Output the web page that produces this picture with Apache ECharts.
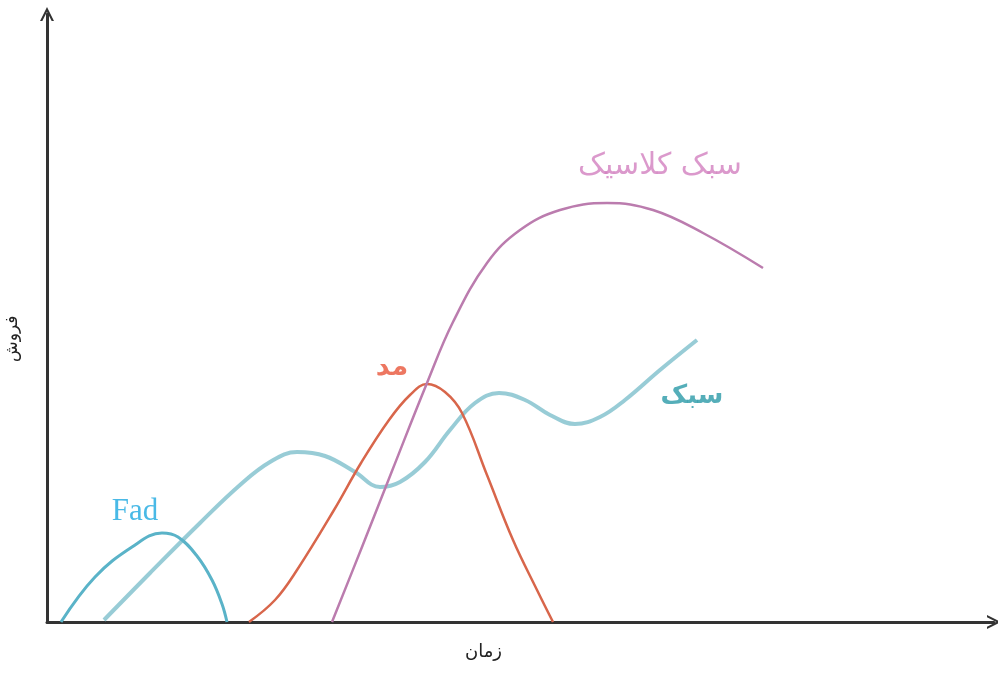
<!DOCTYPE html>
<html><head><meta charset="utf-8">
<script src="https://cdn.jsdelivr.net/npm/echarts@6/dist/echarts.min.js"></script>
<style>html,body{margin:0;padding:0;background:#fff}#c{width:998px;height:673px}</style>
</head><body><div id="c"></div>
<script>
// units: x = time, y = sales (arbitrary units)
const fadData = [[14,0],[48,45],[85,75],[115,89],[131,85],[150,66],[165,42],[175,18],[180,0]];
const styleData = [[57,2],[103,49],[153,99],[193,137],[223,160],[250,170],[278,166],[308,150],[333,135],[353,140],[378,160],[403,192],[428,219],[452,229],[478,222],[503,207],[528,198],[553,205],[578,222],[613,252],[650,282]];
const fashionData = [[202,0],[228,22],[250,52],[287,112],[314,159],[342,202],[363,227],[380,238],[398,230],[415,209],[440,147],[466,82],[490,32],[506,0]];
const classicData = [[285,0],[315,75],[345,151],[380,239],[406,300],[440,359],[473,392],[513,412],[560,419],[606,412],[656,389],[716,354]];
const labels = [
  {name:'Fad', coord:[88,110], color:'#1ba8e0', font:'Liberation Serif', size:31, weight:'normal'},
  {name:'مد', coord:[345,254], color:'#e8553a', font:'DejaVu Sans', size:27, weight:'bold'},
  {name:'سبک', coord:[645,226], color:'#2a9aa8', font:'DejaVu Sans', size:26, weight:'bold'},
  {name:'سبک کلاسیک', coord:[613,456], color:'#d27fbf', font:'DejaVu Sans', size:30, weight:'normal'}
];
const xName = 'زمان', yName = 'فروش';

const chart = echarts.init(document.getElementById('c'));
const arrow = 'path://M0,12 L6,0 L12,12 L10,12 L6,4 L2,12 Z';
function lineSeries(data, color, width, opacity, z){
  return {type:'line', data, smooth:0.4, symbol:'none', z,
    lineStyle:{color, width, opacity}, silent:true};
}
const series = [
  lineSeries(styleData, '#86c3cf', 4, 0.85, 2),
  lineSeries(fadData, '#5ab3c8', 3, 1, 3),
  lineSeries(fashionData, '#d8664b', 2.5, 1, 4),
  lineSeries(classicData, '#bb7cae', 2.5, 1, 5),
  {type:'scatter', symbolSize:0, z:10, silent:true,
   data: labels.map(l=>({value:l.coord, label:{show:true, position:'inside', formatter:l.name,
     color:l.color, fontFamily:l.font, fontSize:l.size, fontWeight:l.weight}}))}
];
chart.setOption({
  backgroundColor:'#fff',
  animation:false,
  grid:{left:47, right:4, top:14, bottom:51},
  xAxis:{type:'value', min:0, max:947, splitLine:{show:false}, axisTick:{show:false}, axisLabel:{show:false},
    axisLine:{show:true, lineStyle:{color:'#333', width:3}, symbol:['none',arrow], symbolSize:[14,14]}},
  yAxis:{type:'value', min:0, max:608, splitLine:{show:false}, axisTick:{show:false}, axisLabel:{show:false},
    axisLine:{show:true, lineStyle:{color:'#333', width:3}, symbol:['none',arrow], symbolSize:[14,14]}},
  graphic:[
    {type:'text', left:465, top:643, style:{text:xName, font:'18px "DejaVu Sans"', fill:'#222'}},
    {type:'text', x:4, y:362, rotation:Math.PI/2, style:{text:yName, font:'17px "DejaVu Sans"', fill:'#222'}}
  ],
  series
});
</script></body></html>
